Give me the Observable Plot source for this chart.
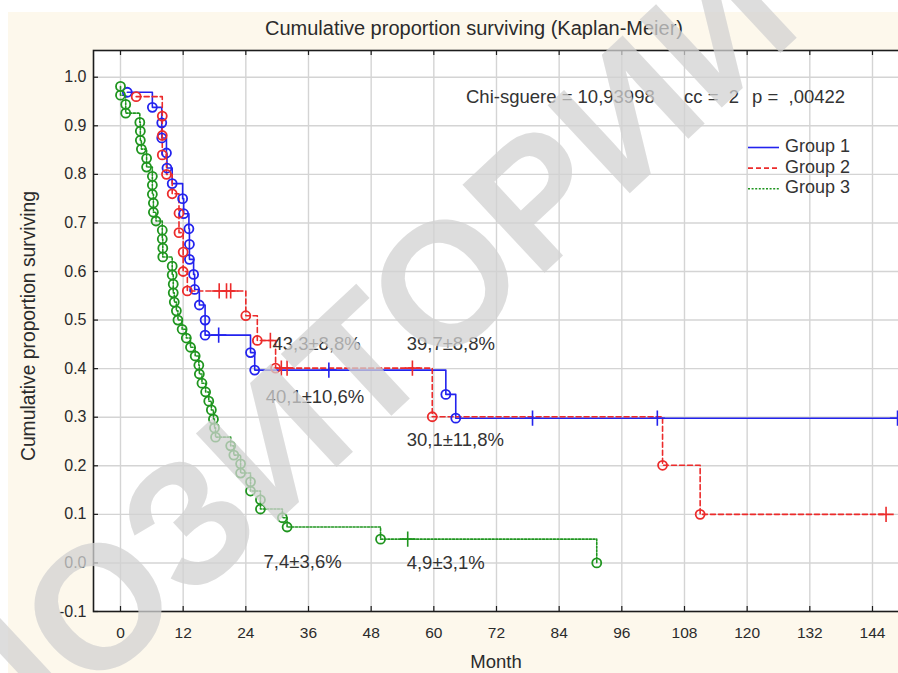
<!DOCTYPE html>
<html>
<head>
<meta charset="utf-8">
<script src="https://cdn.jsdelivr.net/npm/d3@7"></script>
<script src="https://cdn.jsdelivr.net/npm/@observablehq/plot@0.6"></script>
<style>
  html, body { margin: 0; padding: 0; background: #fff; }
  #wrap { position: relative; width: 898px; height: 673px; overflow: hidden; background: #fff; }
  #panel { position: absolute; left: 8px; top: 12px; right: 0; bottom: 0; background: #fdf8ec; }
  #chart { position: absolute; left: 0; top: 0; width: 910px; }
  #chart svg { max-width: none !important; }
  #overlay { position: absolute; left: 0; top: 0; pointer-events: none; }
</style>
</head>
<body>
<div id="wrap"><div id="panel"></div><div id="chart"></div></div>
<script>
// Axis ticks
const monthTicks = [0, 12, 24, 36, 48, 60, 72, 84, 96, 108, 120, 132, 144];
const survTicks = [-0.1, 0.0, 0.1, 0.2, 0.3, 0.4, 0.5, 0.6, 0.7, 0.8, 0.9, 1.0];

const groupNames = ["Group 1", "Group 2", "Group 3"];

// Group 1: completed cases (month, survival after the event) and censored cases
const g1EventMonth = [1.3, 6.1, 7.9, 7.9, 8.8, 8.9, 9.9, 11.9, 12.1, 13.1, 13.2, 13.2, 14.0, 14.2, 15.1, 16.2, 16.2, 24.9, 25.7, 62.3, 64.2];
const g1EventSurv  = [0.969, 0.938, 0.906, 0.875, 0.844, 0.813, 0.781, 0.750, 0.719, 0.688, 0.656, 0.625, 0.594, 0.563, 0.531, 0.500, 0.469, 0.433, 0.397, 0.347, 0.298];
const g1CensMonth  = [18.8, 39.9, 78.9, 102.8, 148.8];
const g1CensSurv   = [0.469, 0.397, 0.298, 0.298, 0.298];

// Group 2
const g2EventMonth = [3.0, 8.0, 8.0, 8.0, 8.8, 9.9, 11.2, 11.2, 12.0, 12.0, 12.8, 24.0, 26.2, 29.7, 59.7, 103.8, 111.0];
const g2EventSurv  = [0.960, 0.920, 0.880, 0.840, 0.800, 0.760, 0.720, 0.680, 0.640, 0.600, 0.560, 0.509, 0.458, 0.401, 0.301, 0.201, 0.100];
const g2CensMonth  = [18.9, 20.3, 21.1, 28.7, 30.8, 31.9, 55.9, 146.6];
const g2CensSurv   = [0.560, 0.560, 0.560, 0.458, 0.401, 0.401, 0.401, 0.100];

// Group 3
const g3EventMonth = [0, 0, 1.0, 1.0, 3.7, 3.8, 3.8, 4.0, 5.0, 5.0, 6.1, 6.1, 6.1, 6.3, 6.3, 6.8, 8.0, 8.0, 8.1, 8.1,
  9.9, 9.9, 10.1, 10.1, 10.3, 10.7, 11.0, 11.8, 12.6, 13.4, 14.3, 15.0, 15.1, 15.6, 16.3, 16.9, 17.4, 17.8, 18.0, 18.2,
  21.1, 21.7, 23.0, 23.0, 24.9, 24.9, 26.8, 26.8, 31.0, 31.9, 49.8, 91.2];
const g3EventSurv  = [0.981, 0.963, 0.944, 0.926, 0.907, 0.889, 0.870, 0.852, 0.833, 0.815, 0.796, 0.778, 0.759, 0.741, 0.722, 0.704, 0.685, 0.667, 0.648, 0.630,
  0.611, 0.593, 0.574, 0.556, 0.537, 0.519, 0.500, 0.481, 0.463, 0.444, 0.426, 0.407, 0.389, 0.370, 0.352, 0.333, 0.315, 0.296, 0.278, 0.259,
  0.241, 0.222, 0.204, 0.185, 0.167, 0.148, 0.130, 0.111, 0.093, 0.074, 0.049, 0.000];
const g3CensMonth  = [55.0];
const g3CensSurv   = [0.049];

// Survival estimates ± standard error (%), and where each note is written
const pctValue = [43.3, 40.1, 39.7, 30.1, 7.4, 4.9];
const pctError = [8.8, 10.6, 8.8, 11.8, 3.6, 3.1];
const pctAtMonth = [29.1, 27.8, 54.8, 54.8, 27.4, 54.8];
const pctAtSurv  = [0.451, 0.341, 0.451, 0.252, 0.002, 0.000];

// Log-rank test summary
const chiSquare = "10,93998";
const degFree = "2";
const pValue = ",00422";

const FONT = "'Liberation Sans', Arial, Helvetica, sans-serif";
const COLORS = ["#2323ee", "#ec2b2b", "#1f951f"];
const DASH = [null, "5,3", "2,1.6"];

// The plot is a little wider than the page so its right border falls outside.
const W = 910, H = 673, ML = 93, MR = 0, MT = 50, MB = 62;
const FW = W - ML - MR, FH = H - MT - MB;

function curve(eM, eS, cM, cS, g) {
  const ev = eM.map((m, i) => ({month: m, surv: eS[i], group: g, censored: false}));
  const ce = cM.map((m, i) => ({month: m, surv: cS[i], group: g, censored: true}));
  return ev.concat(ce).sort((a, b) => a.month - b.month || b.surv - a.surv);
}
const curves = [
  curve(g1EventMonth, g1EventSurv, g1CensMonth, g1CensSurv, 0),
  curve(g2EventMonth, g2EventSurv, g2CensMonth, g2CensSurv, 1),
  curve(g3EventMonth, g3EventSurv, g3CensMonth, g3CensSurv, 2)
];
const allPts = curves.flat();
const events = allPts.filter(d => !d.censored);
const censored = allPts.filter(d => d.censored);

const fmt = v => v.toFixed(1).replace(".", ",");
const notes = pctValue.map((v, i) => ({
  text: `${fmt(v)}±${fmt(pctError[i])}%`, month: pctAtMonth[i], surv: pctAtSurv[i]
}));

const chart = Plot.plot({
  width: W, height: H,
  marginLeft: ML, marginRight: MR, marginTop: MT, marginBottom: MB,
  style: {background: "transparent", fontFamily: FONT, color: "#2b2b2b", maxWidth: "none"},
  x: {domain: [-5.17, 151.28]},
  y: {domain: [-0.1, 1.055]},
  marks: [
    Plot.frame({fill: "white", stroke: null}),
    Plot.gridX(monthTicks, {stroke: "#d4d4d4", strokeOpacity: 1, strokeWidth: 1.4}),
    Plot.gridY(survTicks.filter(v => v > -0.05), {stroke: "#d4d4d4", strokeOpacity: 1, strokeWidth: 1.4}),
    ...curves.map((c, g) => Plot.line(c, {
      x: "month", y: "surv", curve: "step-after",
      stroke: COLORS[g], strokeWidth: 1.6, strokeDasharray: DASH[g]
    })),
    Plot.dot(events, {x: "month", y: "surv", r: 4.5, fill: "none", stroke: d => COLORS[d.group], strokeWidth: 1.8}),
    Plot.dot(censored, {x: "month", y: "surv", symbol: "plus", r: 5, stroke: d => COLORS[d.group], strokeWidth: 1.6}),
    Plot.frame({stroke: "#1c1c1c", strokeWidth: 1.6}),
    // short inward ticks on the frame
    Plot.ruleX(monthTicks, {insetTop: FH - 5, stroke: "#1c1c1c", strokeWidth: 1.2}),
    Plot.ruleX(monthTicks, {insetBottom: FH - 5, stroke: "#1c1c1c", strokeWidth: 1.2}),
    Plot.ruleY(survTicks, {insetRight: FW - 5, stroke: "#1c1c1c", strokeWidth: 1.2}),
    Plot.axisX(monthTicks, {tickSize: 0, tickPadding: 15, fontSize: 15.5, label: null, tickFormat: d => String(d)}),
    Plot.axisY(survTicks, {tickSize: 0, tickPadding: 7, fontSize: 16, label: null, tickFormat: d => d.toFixed(1)}),
    Plot.text(notes, {x: "month", y: "surv", text: "text", textAnchor: "start", fontSize: 18.5, fill: "#333"})
  ]
});
chart.style.maxWidth = "none";
document.getElementById("chart").appendChild(chart);

// Titles, test summary, legend
const svg = d3.select("#wrap").append("svg")
  .attr("id", "overlay").attr("width", 898).attr("height", 673)
  .style("font-family", FONT).attr("fill", "#2b2b2b");

svg.append("text").attr("x", 474).attr("y", 30).attr("text-anchor", "middle")
  .attr("dominant-baseline", "middle").attr("font-size", 20)
  .text("Cumulative proportion surviving (Kaplan-Meier)");

svg.append("text").attr("transform", "translate(30,326) rotate(-90)")
  .attr("text-anchor", "middle").attr("dominant-baseline", "middle").attr("font-size", 19.3)
  .text("Cumulative proportion surviving");

svg.append("text").attr("x", 496).attr("y", 663).attr("text-anchor", "middle")
  .attr("dominant-baseline", "middle").attr("font-size", 18.5).text("Month");

const stat = svg.append("g").attr("font-size", 18.5).attr("fill", "#333");
stat.append("text").attr("x", 466).attr("y", 98).attr("dominant-baseline", "middle")
  .text(`Chi-sguere = ${chiSquare}`);
stat.append("text").attr("x", 684).attr("y", 98).attr("dominant-baseline", "middle")
  .style("white-space", "pre").text(`cc =  ${degFree}`);
stat.append("text").attr("x", 752).attr("y", 98).attr("dominant-baseline", "middle")
  .style("white-space", "pre").text(`p =  ${pValue}`);

const legend = svg.append("g").attr("font-size", 18).attr("fill", "#333");
groupNames.forEach((name, i) => {
  const y = 147.5 + i * 20.6;
  legend.append("line").attr("x1", 748).attr("x2", 779).attr("y1", y).attr("y2", y)
    .attr("stroke", COLORS[i]).attr("stroke-width", 1.6)
    .attr("stroke-dasharray", DASH[i]);
  legend.append("text").attr("x", 785).attr("y", y).attr("dominant-baseline", "middle").text(name);
});

// Repository watermark across the chart
svg.append("text")
  .attr("transform", "translate(-173,942) rotate(-43)")
  .attr("font-size", 175).attr("font-weight", "bold")
  .attr("fill", "#d2d2d2").attr("fill-opacity", 0.75)
  .text("РЕПОЗИТОРИЙ");
</script>
</body>
</html>
